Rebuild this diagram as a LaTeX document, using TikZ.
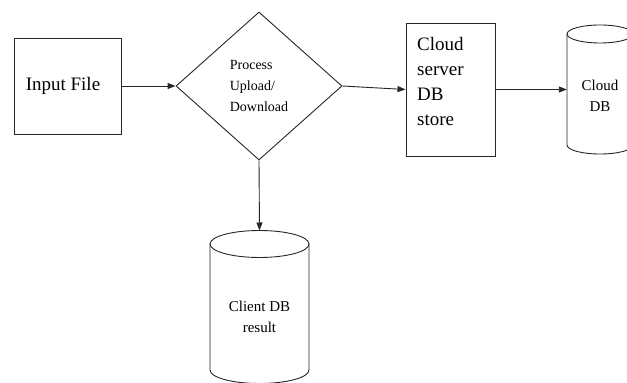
\documentclass[tikz,border=0pt]{standalone}
\usepackage{fontspec}
\setmainfont{Liberation Serif}
\usetikzlibrary{shapes.geometric,arrows.meta}
\begin{document}
\begin{tikzpicture}[x=1pt,y=1pt,
  line/.style={draw=black!85, line width=0.9pt},
  arr/.style={line, -{Triangle[length=8pt,width=6pt]}},
  box/.style={line, rectangle, inner sep=0pt},
  dbtext/.style={inner sep=0pt, align=center, font=\fontsize{15}{20.5}\selectfont}
]
\useasboundingbox (0,0) rectangle (627,383);
% Input file
\node[box, minimum width=107pt, minimum height=96pt, font=\fontsize{19}{23}\selectfont] (inp) at (67.5,297) {Input File\hspace*{9pt}};
% Decision diamond
\node[line, diamond, minimum width=166pt, minimum height=148pt, inner sep=0pt, align=left, font=\fontsize{14}{21}\selectfont] (dia) at (259,297) {Process\\Upload/\\Download};
% Cloud server box
\node[box, minimum width=89pt, minimum height=133pt] (cs) at (450.5,293.5) {};
\node[anchor=north west, inner sep=0pt, align=left, font=\fontsize{19}{25}\selectfont] (cstext) at (417,346) {Cloud\\server\\DB\\store};
% Cloud DB cylinder
\draw[line] (567,349) -- (567,238) arc[start angle=180, end angle=360, x radius=33pt, y radius=9pt] -- (633,349);
\draw[line] (600,349) ellipse [x radius=33pt, y radius=9pt];
\node[dbtext, minimum width=66pt] (cdb) at (600,287) {Cloud\\DB};
% Client DB cylinder
\draw[line] (210,139) -- (210,13) arc[start angle=180, end angle=360, x radius=49.5pt, y radius=13.5pt] -- (309,139);
\draw[line] (259.5,139) ellipse [x radius=49.5pt, y radius=13.5pt];
\node[dbtext, minimum width=99pt, font=\fontsize{15}{21}\selectfont] (cli) at (259.5,66) {Client DB\\result};
\coordinate (clitop) at (259.5,152.5);
% Connectors
\draw[arr] (inp.east) -- (dia.west);
\draw[arr] (dia.east) -- (cs.west);
\draw[arr] (cs.east) -- (cs.east -| cdb.west);
\draw[arr] (dia.south) -- (clitop);
\end{tikzpicture}
\end{document}
